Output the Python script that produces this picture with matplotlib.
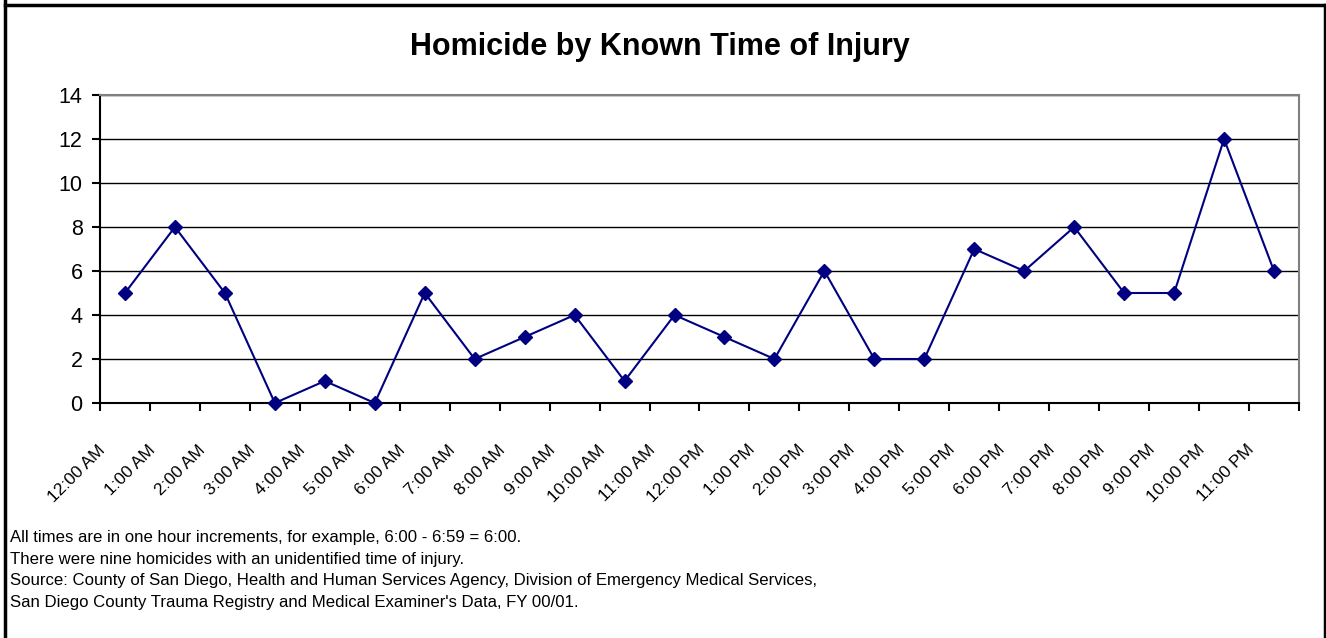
import matplotlib.pyplot as plt
import matplotlib.transforms as mtransforms
from matplotlib.lines import Line2D
import numpy as np

plt.rcParams['font.family'] = ['Liberation Sans', 'DejaVu Sans']

# hourly homicide counts
hours = ['12:00 AM', '1:00 AM', '2:00 AM', '3:00 AM', '4:00 AM', '5:00 AM',
         '6:00 AM', '7:00 AM', '8:00 AM', '9:00 AM', '10:00 AM', '11:00 AM',
         '12:00 PM', '1:00 PM', '2:00 PM', '3:00 PM', '4:00 PM', '5:00 PM',
         '6:00 PM', '7:00 PM', '8:00 PM', '9:00 PM', '10:00 PM', '11:00 PM']
counts = [5, 8, 5, 0, 1, 0, 5, 2, 3, 4, 1, 4, 3, 2, 6, 2, 2, 7, 6, 8, 5, 5, 12, 6]
yticks = [0, 2, 4, 6, 8, 10, 12, 14]

notes = ['All times are in one hour increments, for example, 6:00 - 6:59 = 6:00.',
         'There were nine homicides with an unidentified time of injury.',
         'Source: County of San Diego, Health and Human Services Agency, Division of Emergency Medical Services,',
         "San Diego County Trauma Registry and Medical Examiner's Data, FY 00/01."]

fig = plt.figure(figsize=(13.26, 6.38), dpi=100)
ax = fig.add_axes([100/1326, 1 - 403/638, 1199/1326, 308/638])

x = np.arange(len(hours))
ax.plot(x, counts, color='#000080', lw=1.5, marker='D', markersize=7.5,
        markerfacecolor='#000080', markeredgecolor='#000080', zorder=3, clip_on=False)

ax.set_xlim(-0.5, len(hours) - 0.5)
ax.set_ylim(0, 14)
ax.set_yticks(yticks)
ax.tick_params(axis='y', labelsize=15.5, length=5.5, width=1.5, direction='out', pad=7)
ax.yaxis.grid(True, color='black', lw=1)
ax.set_axisbelow(True)

# ticks between categories, labels at centers
ax.set_xticks(np.arange(len(hours) + 1) - 0.5)
ax.set_xticklabels([])
ax.tick_params(axis='x', which='major', length=5.5, width=1.5, direction='out')
ax.set_xticks(x, minor=True)
ax.set_xticklabels(hours, minor=True, rotation=45, ha='right', va='center',
                   rotation_mode='anchor', fontsize=12.5)
ax.tick_params(axis='x', which='minor', length=0, pad=32)
shift = mtransforms.ScaledTranslation(-22/100, 0, fig.dpi_scale_trans)
for lab in ax.get_xticklabels(minor=True):
    lab.set_transform(lab.get_transform() + shift)

for s in ['left', 'bottom']:
    ax.spines[s].set_color('black')
    ax.spines[s].set_linewidth(1.5)
for s in ['top', 'right']:
    ax.spines[s].set_color('#808080')
    ax.spines[s].set_linewidth(1.5)

fig.text(660/1326, 1 - 55/638, 'Homicide by Known Time of Injury',
         ha='center', va='baseline', fontsize=22, fontweight='bold')

for i, line in enumerate(notes):
    fig.text(10/1326, 1 - (542 + i*21.6)/638, line, ha='left', va='baseline', fontsize=12.05)

# outer frame
for xs, ys in [([5, 5], [0, 638]), ([5, 1324.5], [5, 5]), ([1324.5, 1324.5], [5, 638])]:
    fig.add_artist(Line2D([v/1326 for v in xs], [1 - v/638 for v in ys],
                          color='black', lw=2.5, transform=fig.transFigure))

fig.savefig('out.png', dpi=100)
